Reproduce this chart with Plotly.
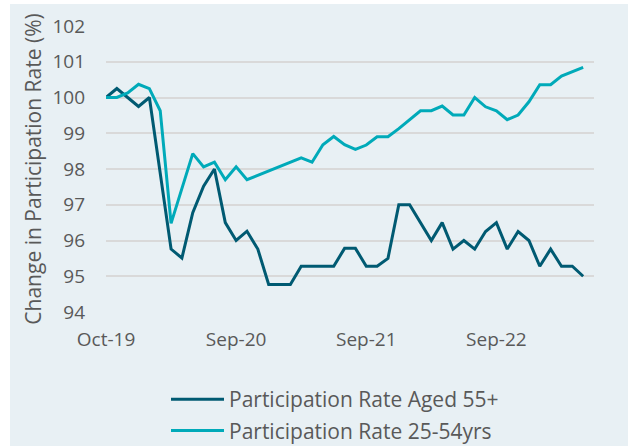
import plotly.graph_objects as go

# Data (index 0 = Oct-19, monthly points)
aged_55_plus = [100.0, 100.25, 100.0, 99.75, 100.0, 97.9, 95.76, 95.51, 96.78, 97.52,
                98.0, 96.5, 96.0, 96.26, 95.76, 94.77, 94.77, 94.77, 95.28, 95.28,
                95.28, 95.28, 95.78, 95.78, 95.28, 95.28, 95.5, 97.0, 97.0, 96.5,
                96.0, 96.5, 95.76, 96.0, 95.76, 96.25, 96.5, 95.76, 96.25, 96.0,
                95.28, 95.76, 95.28, 95.28, 95.0]
aged_25_54 = [100.0, 100.0, 100.13, 100.37, 100.25, 99.63, 96.48, 97.43, 98.43, 98.06,
              98.19, 97.70, 98.06, 97.70, 97.82, 97.94, 98.06, 98.19, 98.31, 98.19,
              98.68, 98.91, 98.68, 98.55, 98.67, 98.90, 98.90, 99.13, 99.37, 99.63,
              99.63, 99.76, 99.51, 99.51, 100.0, 99.74, 99.63, 99.38, 99.51, 99.88,
              100.36, 100.36, 100.60, 100.72, 100.84]
tick_positions = [0, 12, 24, 36]
tick_labels = ["Oct-19", "Sep-20", "Sep-21", "Sep-22"]
y_ticks = [94, 95, 96, 97, 98, 99, 100, 101, 102]

x_idx = list(range(len(aged_55_plus)))

BG = "#E8F0F4"
FONT = "Open Sans"
TXT = "#595959"

fig = go.Figure()
fig.add_trace(go.Scatter(x=x_idx, y=aged_55_plus, mode="lines",
                         name="Participation Rate Aged 55+",
                         line=dict(color="#005A72", width=3),
                         legendgroup="a"))
fig.add_trace(go.Scatter(x=x_idx, y=aged_25_54, mode="lines",
                         name="Participation Rate 25-54yrs",
                         line=dict(color="#00AAB9", width=3),
                         legendgroup="b"))

W, H = 628, 446
L, R, T, B = 106, 34, 26, 134
PW, PH = W - L - R, H - T - B

fig.update_layout(
    width=W, height=H,
    margin=dict(l=L, r=R, t=T, b=B, autoexpand=False),
    paper_bgcolor="white",
    plot_bgcolor="rgba(0,0,0,0)",
    font=dict(family=FONT, size=19, color=TXT),
    showlegend=True,
    legend=dict(x=(166 - L) / PW, xanchor="left", y=-(379 - (H - B)) / PH, yanchor="top",
                bgcolor="rgba(0,0,0,0)", font=dict(size=21, color=TXT),
                tracegroupgap=1, itemwidth=53),
    shapes=[dict(type="rect", xref="paper", yref="paper",
                 x0=(10 - L) / PW, x1=(W + 5 - L) / PW,
                 y0=-(B + 5) / PH, y1=(H - 4 - B) / PH,
                 fillcolor=BG, line=dict(width=0), layer="below")],
)
fig.update_xaxes(range=[0, 45], tickvals=tick_positions, ticktext=tick_labels,
                 showgrid=False, zeroline=False, showline=False, ticks="",
                 ticklabelstandoff=14, tickfont=dict(size=19, color=TXT))
fig.update_yaxes(range=[94, 102], tickvals=y_ticks, showgrid=True,
                 gridcolor="#D9D9D9", gridwidth=1.5, zeroline=False, showline=False,
                 ticks="", ticklabelstandoff=20, tickfont=dict(size=19, color=TXT),
                 title=dict(text="Change in Participation Rate (%)",
                            font=dict(size=21, color=TXT), standoff=5))

fig.write_html("out.html", config={"displayModeBar": False},
               post_script="document.body.style.margin='0';document.body.style.padding='0';")
